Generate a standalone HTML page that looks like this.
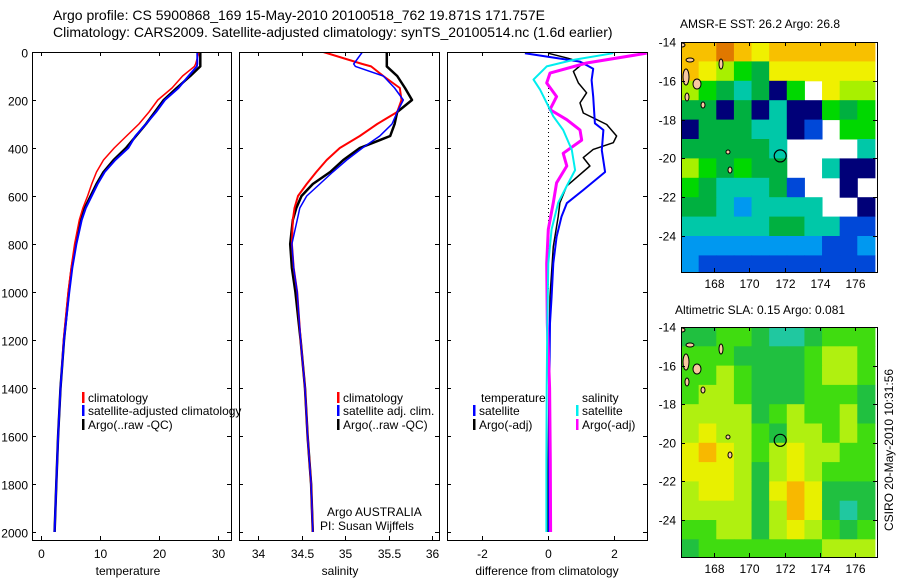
<!DOCTYPE html>
<html><head><meta charset="utf-8"><style>
body{margin:0;background:#fff}
svg text{font-family:"Liberation Sans",sans-serif;fill:#000}
</style></head><body>
<svg id="s" width="900" height="580" viewBox="0 0 900 580" xmlns="http://www.w3.org/2000/svg">
<text x="53" y="20" font-size="14">Argo profile: CS 5900868_169 15-May-2010 20100518_762 19.871S 171.757E</text>
<text x="53" y="37" font-size="14">Climatology: CARS2009. Satellite-adjusted climatology: synTS_20100514.nc (1.6d earlier)</text>
<text x="760" y="28" font-size="12" text-anchor="middle">AMSR-E SST: 26.2 Argo: 26.8</text>
<text x="760" y="314" font-size="12" text-anchor="middle">Altimetric SLA: 0.15 Argo: 0.081</text>
<text transform="translate(893,450) rotate(-90)" font-size="12" text-anchor="middle">CSIRO 20-May-2010 10:31:56</text>
<g id="g"></g>
</svg>
<script>
const depths=[0,50,60,100,150,200,250,300,350,400,450,500,550,600,650,700,800,900,1000,1200,1400,1600,1800,2000];
const tempClim=[26.8,26.2,26,24,22.2,19.8,18.3,16.6,14.5,12.4,10.6,9.4,8.6,7.9,7.1,6.5,5.7,5.1,4.6,3.8,3.3,2.9,2.6,2.3];
const tempSat=[26.5,26.5,26.4,25,23.3,21,19.5,17.8,16,14.8,12.6,10.8,9.6,8.6,7.6,6.9,6,5.3,4.8,3.9,3.3,2.9,2.6,2.3];
const tempArgo=[27,27,27,25.3,23,20.8,19.3,17.8,16.1,14.4,12.3,10.6,9.4,8.4,7.4,6.8,5.9,5.2,4.7,3.9,3.3,2.9,2.6,2.3];
const salClim=[34.75,35.2,35.3,35.44,35.63,35.65,35.6,35.37,35.17,34.94,34.79,34.67,34.56,34.46,34.42,34.4,34.39,34.41,34.45,34.49,34.54,34.57,34.61,34.63];
const salSat=[35.2,35.1,35.12,35.44,35.57,35.67,35.6,35.54,35.4,35.2,35.02,34.86,34.71,34.56,34.48,34.45,34.39,34.41,34.45,34.49,34.54,34.57,34.61,34.63];
const salArgo=[35.48,35.48,35.48,35.6,35.69,35.77,35.6,35.57,35.52,35.17,34.98,34.83,34.63,34.5,34.44,34.4,34.37,34.39,34.43,34.49,34.54,34.57,34.61,34.63];
const dBlueDepth=[5,40,70,117,186,297,325,409,500,575,630,686,770,881,1020,1130,1400,1700,2000];
const dBlue=[-0.7,0.97,1.37,1.32,1.37,1.42,1.68,1.63,1.73,1.07,0.57,0.41,0.26,0.16,0.11,0.06,0.04,0.03,0.03];
const dBlackDepth=[5,26,46,81,129,170,212,254,302,350,378,406,440,475,558,628,686,811,1020,1400,1700,2000];
const dBlack=[0,0.6,1.07,0.77,0.92,1.17,0.97,1.07,1.78,2.08,1.98,1.37,1.07,1.27,0.57,0.36,0.31,0.16,0.06,0.03,0.01,0.0];
const dMagDepth=[5,46,88,129,186,240,282,325,367,422,475,545,628,739,881,1130,1400,1700,2000];
const dMag=[2.99,1.17,0.06,-0.04,0.26,0.06,0.57,0.97,1.02,0.46,0.57,0.26,0.16,0.01,-0.04,-0.02,0.05,0.07,0.08];
const dCyanDepth=[5,33,60,115,157,212,268,325,408,492,558,628,739,881,1130,1400,1700,2000];
const dCyan=[1.98,0.77,-0.04,-0.44,-0.24,-0.04,0.16,0.46,0.72,0.82,0.57,0.31,0.11,0.01,-0.02,-0.04,-0.05,-0.05];
const depthTicks=[0,200,400,600,800,1000,1200,1400,1600,1800,2000];
const tempTicks=[0,10,20,30];
const salTicks=[34,34.5,35,35.5,36];
const diffTicks=[-2,0,2];
const lonTicks=[168,170,172,174,176];
const latTicks=[-14,-16,-18,-20,-22,-24];
const sstGrid=["88987888888","87654777777","6543405w766","44040300545","04443301w55","444443wwww3","654544ww300","5433341ww0w","44323333ww0","33333443311","22222222112","21111111111"];
const slaGrid=["44554334555","55544445665","55654445665","56654445554","66664565564","67665466565","78765676655","77764676555","67764787444","66664687434","55664676545","45555555666"];
const sstColors={"0":"#000078","1":"#0048d8","2":"#0098f0","3":"#00c8a8","4":"#00b040","5":"#00d800","6":"#a8f000","7":"#f0f000","8":"#f8c000","9":"#e07800"};
const slaColors={"3":"#20c8a0","4":"#20c040","5":"#40dc10","6":"#b0f010","7":"#e8f000","8":"#f8b800"};

const NS="http://www.w3.org/2000/svg";
const G=document.getElementById('g');
function el(t,a,p){const e=document.createElementNS(NS,t);for(const k in a)e.setAttribute(k,a[k]);(p||G).appendChild(e);return e;}
const py=d=>52+d*0.24;
function lin(d0,d1,r0,r1){return v=>r0+(v-d0)*(r1-r0)/(d1-d0);}
const panels=[
 {x0:32,x1:231,sx:lin(0,30,41,218),ticks:tempTicks,label:"temperature",cx:128,name:"temperature-panel"},
 {x0:239,x1:439,sx:lin(34,36,258,432),ticks:salTicks,label:"salinity",cx:340,name:"salinity-panel"},
 {x0:447,x1:647,sx:lin(-2,2,482,614),ticks:diffTicks,label:"difference from climatology",cx:547,name:"difference-panel"}];
panels.forEach((p,i)=>{
 const g=el('g',{});
 
 
 const cp=el('clipPath',{id:'cp'+i},g);el('rect',{x:p.x0,y:52,width:p.x1-p.x0,height:488},cp);
 p.g=el('g',{'clip-path':'url(#cp'+i+')'},g);
 el('rect',{x:p.x0+0.5,y:52.5,width:p.x1-p.x0,height:488,fill:'none',stroke:'#000','stroke-width':1},g);
 depthTicks.forEach(d=>{const y=py(d)+0.5;
  el('line',{x1:p.x0,x2:p.x0+4,y1:y,y2:y,stroke:'#000'},g);
  el('line',{x1:p.x1-4,x2:p.x1,y1:y,y2:y,stroke:'#000'},g);
  if(i===0){const t=el('text',{x:28,y:y+5,'font-size':12,'text-anchor':'end'},g);t.textContent=d;
   
   }
 });
 p.ticks.forEach(v=>{const x=Math.round(p.sx(v))+0.5;
  el('line',{x1:x,x2:x,y1:52,y2:56,stroke:'#000'},g);
  el('line',{x1:x,x2:x,y1:536,y2:540,stroke:'#000'},g);
  const t=el('text',{x:x,y:558,'font-size':12,'text-anchor':'middle'},g);t.textContent=v;
  
  });
 const t=el('text',{x:p.cx,y:575,'font-size':12,'text-anchor':'middle'},g);t.textContent=p.label;
 
 
});
function line(p,xs,ds,color,w,name,dash){
 const pts=xs.map((v,k)=>p.sx(v).toFixed(1)+','+py(ds[k]).toFixed(1)).join(' ');
 const e=el('polyline',{points:pts,fill:'none',stroke:color,'stroke-width':w,'stroke-linejoin':'round'},p.g);
 if(dash)e.setAttribute('stroke-dasharray',dash);
 
 
}
line(panels[0],tempArgo,depths,'#000',2.5,'temp-argo-line');
line(panels[0],tempClim,depths,'#f00',1.5,'temp-climatology-line');
line(panels[0],tempSat,depths,'#00f',2,'temp-satellite-line');
line(panels[1],salArgo,depths,'#000',2.5,'sal-argo-line');
line(panels[1],salClim,depths,'#f00',2,'sal-climatology-line');
line(panels[1],salSat,depths,'#00f',1.5,'sal-satellite-line');
const p3=panels[2];
el('line',{x1:548.5,x2:548.5,y1:py(100),y2:py(1000),stroke:'#000','stroke-dasharray':'1 3'},p3.g);
line(p3,dBlack,dBlackDepth,'#000',1.5,'diff-temp-argo-line');
line(p3,dBlue,dBlueDepth,'#00f',2,'diff-temp-satellite-line');
line(p3,dMag,dMagDepth,'#f0f',3,'diff-sal-argo-line');
line(p3,dCyan,dCyanDepth,'#0ee',2,'diff-sal-satellite-line');
function leg(x,y,color,txt,name){
 const r=el('rect',{x:x,y:y-10,width:2.5,height:11,fill:color});
 
 
 const t=el('text',{x:x+6,y:y,'font-size':12});t.textContent=txt;
 
 
}
leg(82,402,'#f00','climatology','legend-climatology');
leg(82,415,'#00f','satellite-adjusted climatology','legend-satellite');
leg(82,429,'#000','Argo(..raw -QC)','legend-argo');
leg(337,402,'#f00','climatology','legend2-climatology');
leg(337,415,'#00f','satellite adj. clim.','legend2-satellite');
leg(337,429,'#000','Argo(..raw -QC)','legend2-argo');
leg(473,415,'#00f','satellite','legend3-temp-satellite');
leg(473,429,'#000','Argo(-adj)','legend3-temp-argo');
leg(576,415,'#0ee','satellite','legend3-sal-satellite');
leg(576,429,'#f0f','Argo(-adj)','legend3-sal-argo');
[[481,402,'temperature','legend3-temperature-head'],[582,402,'salinity','legend3-salinity-head'],[327,516,'Argo AUSTRALIA','argo-australia-label'],[320,530,'PI: Susan Wijffels','pi-label']].forEach(a=>{
 const t=el('text',{x:a[0],y:a[1],'font-size':12});t.textContent=a[2];
 
 });
function map(y0,y1,grid,colors,name,i){
 const x0=681,x1=877;
 const lx=lin(168,176,714,855);
 const ly=lin(-14,-24,y0,y0+(y1===272?194:193));
 const g=el('g',{});
 
 
 const cp=el('clipPath',{id:'mc'+i},g);el('rect',{x:x0,y:y0,width:x1-x0,height:y1-y0},cp);
 const cg=el('g',{'clip-path':'url(#mc'+i+')'},g);
 el('rect',{x:x0,y:y0,width:x1-x0,height:y1-y0,fill:'#fff'},cg);
 grid.forEach((row,r)=>{[...row].forEach((c,k)=>{
  if(c==='w')return;
  const xa=lx(166.13+k),xb=lx(167.13+k),ya=ly(-14-r),yb=ly(-15-r);
  const cell=el('rect',{x:xa,y:ya,width:xb-xa+0.5,height:yb-ya+0.5,fill:colors[c]},cg);
  
  
 });});
 [[686,15,3,8],[697,22,4,5],[690,-2,4,2],[721,2,2,5],[703,43,2,3],[730,108,2,3],[682,-17,3,2],[687,35,2,4],[728,90,2,2]].forEach(a=>{
  const e=el('ellipse',{cx:a[0],cy:y0+a[1]+20,rx:a[2],ry:a[3],fill:'#f8c8a0',stroke:'#000','stroke-width':1},cg);
  
  });
 const c=el('circle',{cx:lx(171.757),cy:ly(-19.871),r:6,fill:'none',stroke:'#000','stroke-width':1.2},cg);
 
 
 el('rect',{x:x0+0.5,y:y0+0.5,width:x1-x0,height:y1-y0,fill:'none',stroke:'#000'},g);
 lonTicks.forEach(v=>{const x=Math.round(lx(v))+0.5;
  el('line',{x1:x,x2:x,y1:y0,y2:y0+4,stroke:'#000'},g);el('line',{x1:x,x2:x,y1:y1-4,y2:y1,stroke:'#000'},g);
  const t=el('text',{x:x,y:y1+16,'font-size':12,'text-anchor':'middle'},g);t.textContent=v;
  
  });
 latTicks.forEach(v=>{const y=Math.round(ly(v))+0.5;
  el('line',{x1:x0,x2:x0+4,y1:y,y2:y,stroke:'#000'},g);el('line',{x1:x1-4,x2:x1,y1:y,y2:y,stroke:'#000'},g);
  const t=el('text',{x:676,y:y+4,'font-size':12,'text-anchor':'end'},g);t.textContent=v;
  
  });
}
map(42,272,sstGrid,sstColors,'sst-map',0);
map(327,557,slaGrid,slaColors,'sla-map',1);
</script>
</body></html>
